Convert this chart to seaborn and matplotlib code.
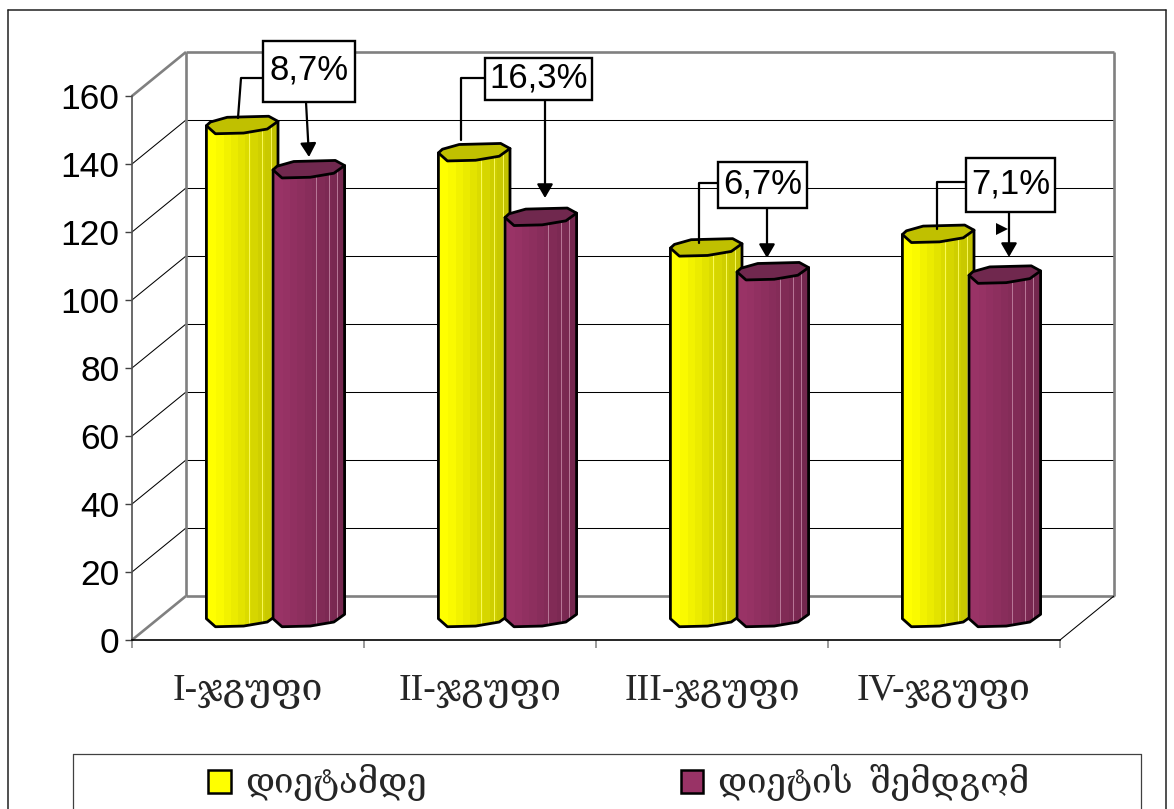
import matplotlib
matplotlib.use("Agg")
import matplotlib.pyplot as plt
import numpy as np
import pandas as pd
import seaborn as sns
from matplotlib.colors import to_rgb
from matplotlib.lines import Line2D
from matplotlib.path import Path
from matplotlib.patches import Patch, Polygon, Rectangle
from matplotlib.transforms import Affine2D

# Values
groups = ["I-ჯგუფი", "II-ჯგუფი", "III-ჯგუფი", "IV-ჯგუფი"]
series_names = ["დიეტამდე", "დიეტის  შემდგომ"]
before_diet = [145, 137, 109, 113]
after_diet = [132, 118, 102, 101]
change_labels = ["8,7%", "16,3%", "6,7%", "7,1%"]
y_ticks = list(range(0, 161, 20))

W, H = 1174, 809
sns.set_style("white")
plt.rcParams["font.family"] = ["Liberation Sans", "DejaVu Sans"]
SERIF = ["Liberation Serif", "DejaVu Serif", "DejaVu Sans"]

fig = plt.figure(figsize=(W / 100, H / 100), dpi=100, facecolor="white")
ax = fig.add_axes([132 / W, 1 - 640 / H, 928 / W, 544 / H])
ax.patch.set_alpha(0)

table = pd.DataFrame({
    "group": groups * 2,
    "series": [series_names[0]] * 4 + [series_names[1]] * 4,
    "value": before_diet + after_diet,
})
sns.barplot(data=table, x="group", y="value", hue="series", hue_order=series_names,
            palette=["#FFFF00", "#993366"], width=0.6, gap=0, dodge=True,
            legend=False, ax=ax, zorder=3)
ax.set_xlim(-0.5, 3.5)
ax.set_ylim(0, 160)
ax.set_xlabel("")
ax.set_ylabel("")

# Pixel-to-data sizes of the fake 3-D box
PX_X = 4 / 928
PX_Y = 160 / 544
DX, DY = 54 * PX_X, 44 * PX_Y
x0, x1 = -0.5, 3.5
GREY = "#808080"


def draw(xs, ys, color="black", lw=0.75, z=1):
    ax.plot(xs, ys, color=color, lw=lw, zorder=z, clip_on=False, solid_capstyle="butt")


# Side wall and back wall
for v in y_ticks[1:-1]:
    draw([x0, x0 + DX], [v, v + DY])
    draw([x0 + DX, x1 + DX], [v + DY, v + DY])
draw([x0, x0 + DX], [160, 160 + DY], GREY, 1.9)
draw([x0 + DX, x1 + DX], [160 + DY, 160 + DY], GREY, 1.9)
draw([x0, x0 + DX], [0, DY], GREY, 1.9)
draw([x0 + DX, x1 + DX], [DY, DY], GREY, 1.9)
draw([x0 + DX, x0 + DX], [DY, 160 + DY], GREY, 1.9)
draw([x1 + DX, x1 + DX], [DY, 160 + DY], GREY, 1.9)
draw([x1, x1 + DX], [0, DY])

# Axes
for side in ("top", "right"):
    ax.spines[side].set_visible(False)
ax.spines["left"].set_color("#505050")
ax.spines["left"].set_linewidth(1.2)
ax.spines["bottom"].set_color("black")
ax.spines["bottom"].set_linewidth(1.2)
ax.spines["bottom"].set_zorder(6)
ax.set_yticks(y_ticks)
ax.tick_params(axis="y", left=True, length=5, width=1, color="#404040", pad=4,
               labelsize=25.5, labelcolor="black")
ax.set_xticks(range(4))
ax.set_xticklabels(groups, family=SERIF, fontsize=27)
ax.tick_params(axis="x", which="major", bottom=False, pad=21)
ax.set_xticks(np.arange(-0.5, 3.6, 1), minor=True)
ax.tick_params(axis="x", which="minor", bottom=True, length=6, width=1.1, color=GREY)

# Prism-shaped columns built around the bars
FRONT = [(0, .54), (.126, 1), (.52, .96), (.85, .73), (1, .29)]
BACK = [(.87, 0), (.29, .06), (.056, .33)]
CAP = FRONT + BACK
CAP_H = 17.5 * PX_Y
STRIP_EDGES = [0, .14, .24, .34, .44, .54, .62, .72, .82, .9, 1]
STRIP_SHADE = [1, .98, .95, .92, .89, .86, .84, .81, .79, .76]
HILITES = [.6, .78, .9]
CAP_COLORS = ["#C0C000", "#70284E"]
BASE_COLORS = ["#FFFF00", "#993366"]
NUDGE = [2, -1]  # horizontal pixel nudge of each series

for s, container in enumerate(ax.containers):
    for rect in container:
        bx = rect.get_x() + DX / 2 + (NUDGE[s] - 1) * PX_X
        bw = rect.get_width() + 2 * PX_X
        top = rect.get_height() + rect.get_y()
        base = DY * 0.5
        yc_top = base + top
        z = 3 + s * 0.5

        def pt(u, v, yc):
            return (bx + u * bw, yc + CAP_H * (0.5 - v))

        body = [pt(u, v, base) for u, v in FRONT]
        body += [pt(1, .29, yc_top), pt(0, .54, yc_top)]
        clip = Path(body + [body[0]])
        rect.set_clip_path(clip, ax.transData)
        rect.set_y(base)

        rgb = np.array(to_rgb(BASE_COLORS[s]))
        for i, shade in enumerate(STRIP_SHADE):
            strip = Rectangle((bx + STRIP_EDGES[i] * bw, base - CAP_H),
                              (STRIP_EDGES[i + 1] - STRIP_EDGES[i]) * bw + 0.001,
                              top + 2 * CAP_H, fc=rgb * shade, ec="none", zorder=z)
            ax.add_patch(strip)
            strip.set_clip_path(clip, ax.transData)
        for f in HILITES:
            hl = Line2D([bx + f * bw] * 2, [base - CAP_H, yc_top + CAP_H],
                        color=rgb * 0.6 + 0.4, lw=0.6, zorder=z)
            ax.add_line(hl)
            hl.set_clip_path(clip, ax.transData)
        ax.add_patch(Polygon(body, closed=True, fc="none", ec="black", lw=2,
                             zorder=z + 0.1, clip_on=False, joinstyle="round"))
        ax.add_patch(Polygon([pt(u, v, yc_top) for u, v in CAP], closed=True,
                             fc=CAP_COLORS[s], ec="black", lw=2, zorder=z + 0.2,
                             clip_on=False, joinstyle="round"))

# Callouts, placed in image pixels measured from the top-left corner
PXT = Affine2D().scale(1, -1).translate(0, H)
callouts = [
    dict(box=(263, 41, 355, 102), leader=[(263, 78), (241, 78), (238, 118)], arrow=((306, 102), (309, 157))),
    dict(box=(485, 58, 592, 100), leader=[(485, 78), (461, 78), (461, 140)], arrow=((545, 100), (545, 198))),
    dict(box=(718, 162, 807, 208), leader=[(718, 183), (699, 183), (699, 243)], arrow=((767, 208), (767, 258))),
    dict(box=(966, 158, 1055, 212), leader=[(966, 182), (937, 182), (937, 229)], arrow=((1009, 212), (1009, 257))),
]
for label, c in zip(change_labels, callouts):
    l, t, r, b = c["box"]
    lx, ly = zip(*c["leader"])
    ax.add_line(Line2D(lx, ly, color="black", lw=1.6, transform=PXT, zorder=8, clip_on=False))
    ax.annotate("", xy=c["arrow"][1], xytext=c["arrow"][0], xycoords=PXT, textcoords=PXT,
                arrowprops=dict(arrowstyle="-|>,head_length=0.55,head_width=0.32", color="black",
                                lw=1.6, shrinkA=0, shrinkB=0, mutation_scale=15), zorder=8)
    ax.add_patch(Rectangle((l, t), r - l, b - t, fc="white", ec="black", lw=1.7,
                           transform=PXT, zorder=9, clip_on=False))
    ax.text((l + r) / 2, (t + b) / 2 - 1, label, transform=PXT, ha="center", va="center",
            fontsize=25, color="black", zorder=10)
# Stray arrowhead beside the last callout
ax.add_patch(Polygon([(996, 223), (1008, 229), (996, 235)], closed=True, fc="black", ec="none",
                     transform=PXT, zorder=8, clip_on=False))

# Outer frame, open at the bottom edge
for xs, ys in [([8, 8], [10, H]), ([8, 1166], [10, 10]), ([1166, 1166], [10, H])]:
    fig.add_artist(Line2D(xs, ys, color="#202020", lw=1.1, transform=PXT))
# Legend frame, also running off the bottom edge
for xs, ys in [([73, 73], [754, H]), ([73, 1141], [754, 754]), ([1141, 1141], [754, H])]:
    fig.add_artist(Line2D(xs, ys, color="#404040", lw=0.9, transform=PXT))

handles = [Patch(fc=c, ec="black", lw=1.8) for c in BASE_COLORS]
fig.legend(handles, series_names, loc="upper left", bbox_to_anchor=(198 / W, 1 - 754 / H),
           bbox_transform=fig.transFigure, ncols=2, frameon=False, handlelength=0.64,
           handleheight=0.64, handletextpad=0.43, columnspacing=7.3, borderpad=0.3,
           borderaxespad=0, prop=dict(family=SERIF, size=25))

fig.savefig("out.png", dpi=100)
